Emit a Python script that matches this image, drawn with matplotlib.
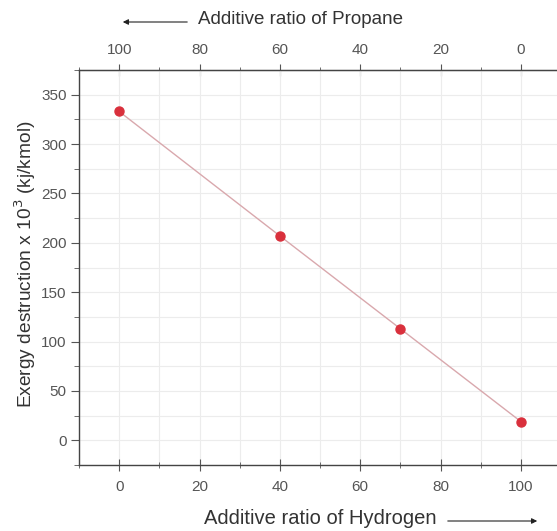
import numpy as np
import matplotlib.pyplot as plt

plt.rcParams['font.family'] = ['Liberation Sans', 'DejaVu Sans']

hydrogen = [0, 40, 70, 100]
exergy = [333, 207, 113, 19]
xticks = [0, 20, 40, 60, 80, 100]
top_labels = ['100', '80', '60', '40', '20', '0']
yticks = [0, 50, 100, 150, 200, 250, 300, 350]

fig = plt.figure(figsize=(5.57, 5.31), dpi=100)
W, H = 557, 531
ax = fig.add_axes([79 / W, 1 - 465 / H, (561 - 79) / W, (465 - 70) / H])

ax.plot(hydrogen, exergy, color='#d9a8ad', lw=1.0, zorder=2)
ax.plot(hydrogen, exergy, 'o', color='#d9303c', ms=6.5, mec='#d9303c', zorder=3)

ax.set_xlim(-10, 110)
ax.set_ylim(-25, 375)
ax.set_xticks(xticks)
ax.set_xticks(np.arange(-10, 111, 10), minor=True)
ax.set_yticks(yticks)
ax.set_yticks(np.arange(-25, 376, 25), minor=True)
ax.grid(True, which='both', color='#ececec', lw=0.8, zorder=0)

gray = '#555555'
fs = 11
ax.tick_params(axis='x', which='both', direction='inout', colors=gray,
               labelsize=fs, pad=7)
ax.tick_params(axis='x', which='major', length=8)
ax.tick_params(axis='x', which='minor', length=4)
ax.tick_params(axis='y', which='both', direction='out', right=True, colors=gray,
               labelsize=fs, pad=3)
ax.tick_params(axis='y', which='major', length=6)
ax.tick_params(axis='y', which='minor', length=3.5)
for s in ax.spines.values():
    s.set_color('#444444')
    s.set_linewidth(1.0)

ax.set_xticklabels([str(t) for t in xticks])
secx = ax.secondary_xaxis('top')
secx.set_xticks(xticks)
secx.set_xticklabels(top_labels)
secx.tick_params(direction='inout', length=8, colors=gray, labelsize=fs, pad=5)
secx.set_xticks(np.arange(-10, 111, 10), minor=True)
secx.tick_params(which='minor', direction='inout', length=4, colors=gray)
secx.spines['top'].set_color('#444444')

lab = dict(color='#333333')
fig.text(25 / W, 1 - 264 / H, 'Exergy destruction x 10$^3$ (kj/kmol)', rotation=90,
         ha='center', va='center', fontsize=13.8, **lab)
fig.text(300 / W, 1 - 20 / H, 'Additive ratio of Propane', ha='center', va='center',
         fontsize=13.5, **lab)
fig.text(320 / W, 1 - 519 / H, 'Additive ratio of Hydrogen', ha='center', va='center',
         fontsize=14.5, **lab)
ax.annotate('', xy=(120 / W, 1 - 22 / H), xytext=(190 / W, 1 - 22 / H),
            xycoords='figure fraction',
            arrowprops=dict(arrowstyle='-|>', color='#222222', lw=0.8, mutation_scale=8))
ax.annotate('', xy=(540 / W, 1 - 521 / H), xytext=(445 / W, 1 - 521 / H),
            xycoords='figure fraction',
            arrowprops=dict(arrowstyle='-|>', color='#222222', lw=0.8, mutation_scale=8))

fig.savefig('out.png', dpi=100)
